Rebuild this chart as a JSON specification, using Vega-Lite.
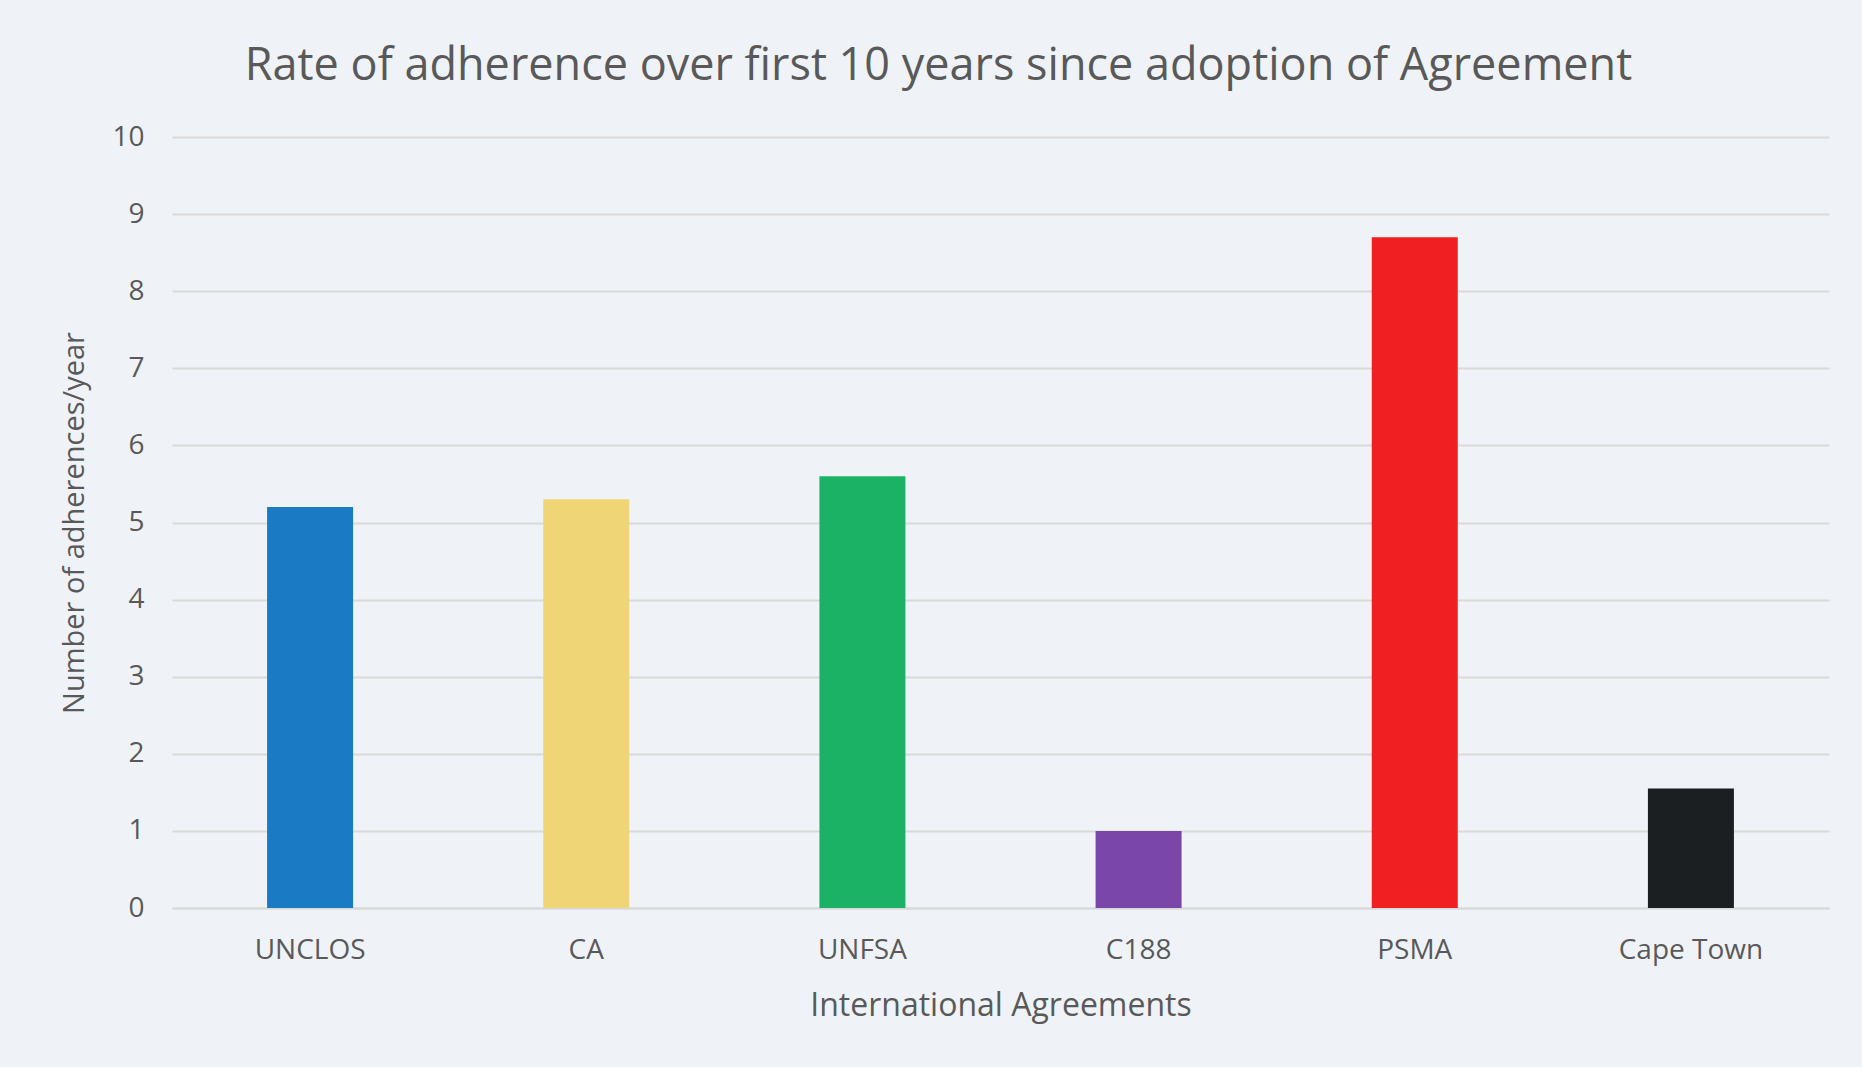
{
  "$schema": "https://vega.github.io/schema/vega-lite/v6.json",
  "autosize": "none",
  "width": 1657,
  "height": 771,
  "padding": {"left": 172, "top": 137, "right": 33, "bottom": 159},
  "background": "#eff3f7",
  "title": {
    "text": "Rate of adherence over first 10 years since adoption of Agreement",
    "font": "Open Sans",
    "fontSize": 45,
    "fontWeight": "normal",
    "color": "#595959",
    "anchor": "middle",
    "frame": "group",
    "dx": -62,
    "offset": 34
  },
  "data": {
    "values": [
      {"agreement": "UNCLOS", "rate": 5.2},
      {"agreement": "CA", "rate": 5.3},
      {"agreement": "UNFSA", "rate": 5.6},
      {"agreement": "C188", "rate": 1.0},
      {"agreement": "PSMA", "rate": 8.7},
      {"agreement": "Cape Town", "rate": 1.55}
    ]
  },
  "config": {
    "view": {"stroke": null},
    "font": "Open Sans"
  },
  "mark": {"type": "bar", "width": 86},
  "encoding": {
    "x": {
      "field": "agreement",
      "type": "nominal",
      "sort": null,
      "title": "International Agreements",
      "axis": {
        "labelAngle": 0,
        "labelFont": "Open Sans",
        "labelFontSize": 28,
        "labelColor": "#595959",
        "labelPadding": 28,
        "titleFont": "Open Sans",
        "titleFontSize": 32,
        "titleFontWeight": "normal",
        "titleColor": "#595959",
        "titlePadding": 26,
        "ticks": false,
        "domainColor": "#d9d9d9",
        "domainWidth": 2
      }
    },
    "y": {
      "field": "rate",
      "type": "quantitative",
      "title": "Number of adherences/year",
      "scale": {"domain": [0, 10]},
      "axis": {
        "values": [0, 1, 2, 3, 4, 5, 6, 7, 8, 9, 10],
        "labelFont": "Open Sans",
        "labelFontSize": 28,
        "labelColor": "#595959",
        "labelPadding": 28,
        "ticks": false,
        "domain": false,
        "gridColor": "#d9d9d9",
        "gridWidth": 2,
        "titleFont": "Open Sans",
        "titleFontSize": 29,
        "titleFontWeight": "normal",
        "titleColor": "#595959",
        "titlePadding": 22
      }
    },
    "color": {
      "field": "agreement",
      "type": "nominal",
      "legend": null,
      "scale": {
        "domain": ["UNCLOS", "CA", "UNFSA", "C188", "PSMA", "Cape Town"],
        "range": ["#1a7bc4", "#f0d577", "#1bb266", "#7a47a8", "#f01f22", "#1b1f22"]
      }
    }
  }
}
